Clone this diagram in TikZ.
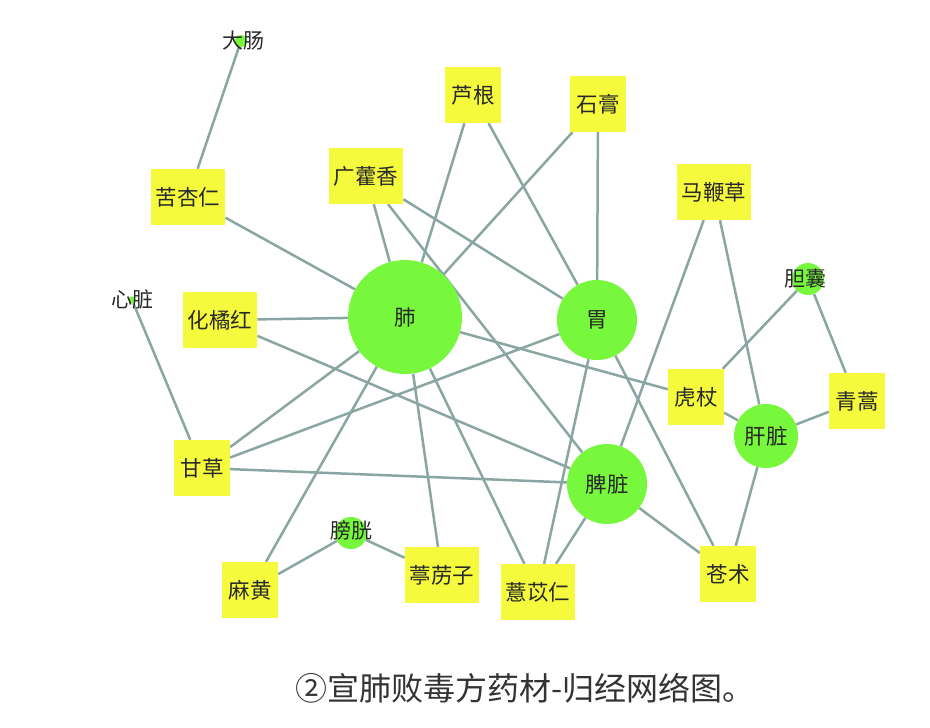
\documentclass[tikz,border=0pt]{standalone}
\usepackage{fontspec}
\newfontfamily\cjk{Noto Sans CJK SC}
\pgfdeclarelayer{bg}
\pgfsetlayers{bg,main}
\definecolor{boxy}{RGB}{246,250,60}
\definecolor{orgg}{RGB}{120,248,60}
\definecolor{edgec}{RGB}{138,166,162}
\definecolor{txt}{RGB}{40,40,40}
\begin{document}
\begin{tikzpicture}[x=1pt,y=-1pt,
  herb/.style={fill=boxy,draw=none,minimum width=56pt,minimum height=56pt,inner xsep=5pt,font=\cjk\fontsize{21.5}{23}\selectfont,text=txt},
  organ/.style={circle,fill=orgg,draw=none,inner sep=0pt,font=\cjk\fontsize{21.5}{23}\selectfont,text=txt},
  dot/.style={circle,fill=orgg,draw=none,inner sep=0pt},
  lbl/.style={font=\cjk\fontsize{21}{23}\selectfont,text=txt,inner sep=0pt},
  link/.style={draw=edgec,line width=2.5pt}]
\useasboundingbox (0,0) rectangle (930,728);
% organs
\node[organ,minimum size=114pt] (fei) at (405,317) {肺};
\node[organ,minimum size=80pt] (wei) at (597,320) {胃};
\node[organ,minimum size=80pt] (pi) at (607,484) {脾脏};
\node[organ,minimum size=64pt] (gan) at (766,436) {肝脏};
\node[dot,minimum size=32pt] (dan) at (808,279) {};
\node[lbl] (danl) at (805,279) {胆囊};
\node[dot,minimum size=32pt] (pang) at (351,533) {};
\node[lbl] (pangl) at (351,530) {膀胱};
\node[dot,minimum size=12pt] (da) at (241,41) {};
\node[lbl] (dal) at (243,41) {大肠};
\node[dot,minimum size=7pt] (xin) at (132,300) {};
\node[lbl] (xinl) at (132,300) {心脏};
% herbs
\node[herb] (kxr) at (188,197) {苦杏仁};
\node[herb] (ghx) at (366,176) {广藿香};
\node[herb] (lg) at (473,95) {芦根};
\node[herb] (sg) at (598,104) {石膏};
\node[herb] (mbc) at (714,192) {马鞭草};
\node[herb] (hjh) at (220,320) {化橘红};
\node[herb] (hz) at (696,397) {虎杖};
\node[herb] (qh) at (857,401) {青蒿};
\node[herb] (gc) at (202,468) {甘草};
\node[herb] (mh) at (250,590) {麻黄};
\node[herb] (tlz) at (442,575) {葶苈子};
\node[herb] (yyr) at (538,592) {薏苡仁};
\node[herb] (cz) at (728,574) {苍术};
% edges
\begin{pgfonlayer}{bg}
\fill[white] (0,0) rectangle (930,728);
\draw[link] (da) -- (kxr);
\draw[link] (kxr) -- (fei);
\draw[link] (ghx) -- (fei);
\draw[link] (ghx) -- (wei);
\draw[link] (ghx) -- (pi);
\draw[link] (lg) -- (fei);
\draw[link] (lg) -- (wei);
\draw[link] (sg) -- (fei);
\draw[link] (sg) -- (wei);
\draw[link] (mbc) -- (pi);
\draw[link] (mbc) -- (gan);
\draw[link] (dan) -- (hz);
\draw[link] (dan) -- (qh);
\draw[link] (xin) -- (gc);
\draw[link] (hjh) -- (fei);
\draw[link] (hjh) -- (pi);
\draw[link] (fei) -- (gc);
\draw[link] (wei) -- (gc);
\draw[link] (gc) -- (pi);
\draw[link] (fei) -- (mh);
\draw[link] (fei) -- (tlz);
\draw[link] (fei) -- (yyr);
\draw[link] (fei) -- (hz);
\draw[link] (wei) -- (yyr);
\draw[link] (wei) -- (cz);
\draw[link] (pi) -- (yyr);
\draw[link] (pi) -- (cz);
\draw[link] (gan) -- (cz);
\draw[link] (gan) -- (hz);
\draw[link] (gan) -- (qh);
\draw[link] (pang) -- (mh);
\draw[link] (pang) -- (tlz);
\end{pgfonlayer}
% caption
\node[font=\cjk\fontsize{32}{34}\selectfont,text=black!80,inner sep=0pt] (cap) at (525,688) {②宣肺败毒方药材-归经网络图。};
\end{tikzpicture}
\end{document}
